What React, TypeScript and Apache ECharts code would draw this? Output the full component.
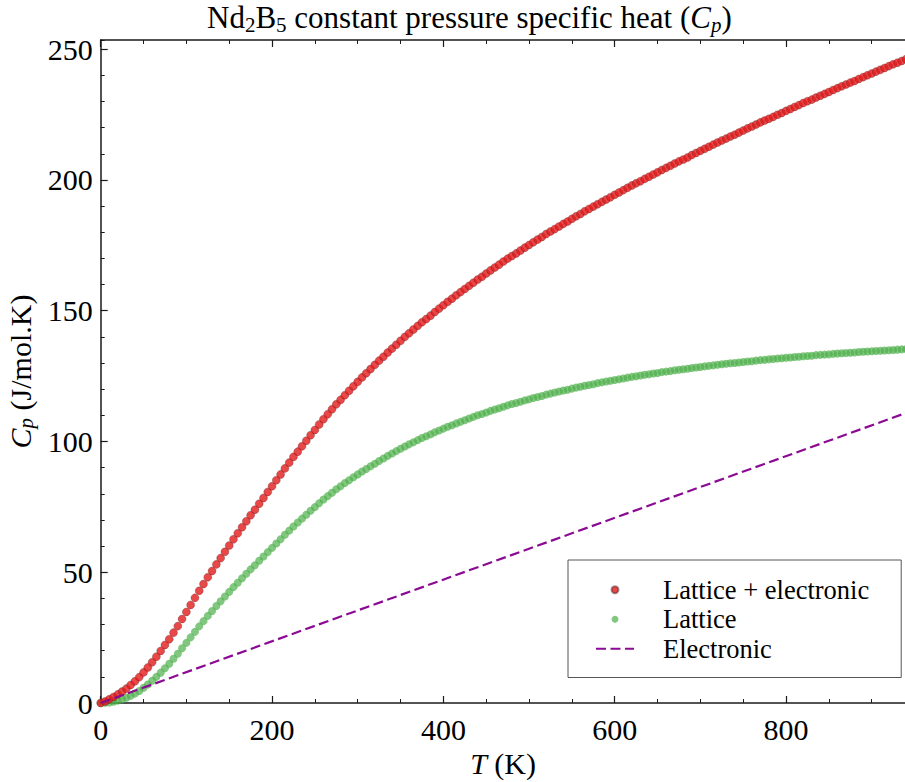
import React, { useEffect, useRef } from 'react';
import * as echarts from 'echarts';

const FONT = "'Liberation Serif', 'Times New Roman', 'DejaVu Serif', serif";

// Temperature grid (K)
const temperatures = [
  0, 5, 10, 15, 20, 25, 30, 35, 40, 45,
  50, 55, 60, 65, 70, 75, 80, 85, 90, 95,
  100, 105, 110, 115, 120, 125, 130, 135, 140, 145,
  150, 155, 160, 165, 170, 175, 180, 185, 190, 195,
  200, 205, 210, 215, 220, 225, 230, 235, 240, 245,
  250, 255, 260, 265, 270, 275, 280, 285, 290, 295,
  300, 305, 310, 315, 320, 325, 330, 335, 340, 345,
  350, 355, 360, 365, 370, 375, 380, 385, 390, 395,
  400, 405, 410, 415, 420, 425, 430, 435, 440, 445,
  450, 455, 460, 465, 470, 475, 480, 485, 490, 495,
  500, 505, 510, 515, 520, 525, 530, 535, 540, 545,
  550, 555, 560, 565, 570, 575, 580, 585, 590, 595,
  600, 605, 610, 615, 620, 625, 630, 635, 640, 645,
  650, 655, 660, 665, 670, 675, 680, 685, 690, 695,
  700, 705, 710, 715, 720, 725, 730, 735, 740, 745,
  750, 755, 760, 765, 770, 775, 780, 785, 790, 795,
  800, 805, 810, 815, 820, 825, 830, 835, 840, 845,
  850, 855, 860, 865, 870, 875, 880, 885, 890, 895,
  900, 905, 910, 915, 920, 925, 930, 935, 940,
];

// Lattice Cp (J/mol.K)
const latticeCp = [
  0, 0.1, 0.2, 0.5, 0.9, 1.4, 2.0, 2.8, 3.6, 4.6,
  5.8, 7.1, 8.5, 10.0, 11.6, 13.3, 15.0, 16.9, 18.8, 20.9,
  23.0, 25.1, 27.2, 29.3, 31.3, 33.3, 35.2, 37.1, 38.9, 40.7,
  42.5, 44.3, 46.0, 47.7, 49.4, 51.1, 52.7, 54.4, 56.0, 57.7,
  59.3, 61.0, 62.6, 64.3, 65.9, 67.5, 69.0, 70.5, 72.0, 73.5,
  74.9, 76.4, 77.8, 79.1, 80.4, 81.7, 82.9, 84.1, 85.2, 86.3,
  87.4, 88.5, 89.5, 90.5, 91.5, 92.5, 93.5, 94.5, 95.4, 96.3,
  97.2, 98.1, 98.9, 99.7, 100.5, 101.3, 102.0, 102.7, 103.5, 104.2,
  104.9, 105.6, 106.2, 106.9, 107.5, 108.1, 108.8, 109.4, 110.0, 110.5,
  111.1, 111.7, 112.2, 112.7, 113.3, 113.8, 114.3, 114.7, 115.2, 115.7,
  116.1, 116.6, 117.0, 117.4, 117.9, 118.3, 118.7, 119.1, 119.5, 119.8,
  120.2, 120.6, 120.9, 121.3, 121.6, 121.9, 122.3, 122.6, 122.9, 123.2,
  123.5, 123.8, 124.1, 124.4, 124.7, 124.9, 125.2, 125.5, 125.7, 126.0,
  126.2, 126.5, 126.7, 126.9, 127.2, 127.4, 127.6, 127.8, 128.1, 128.3,
  128.5, 128.7, 128.9, 129.1, 129.3, 129.5, 129.7, 129.9, 130.0, 130.2,
  130.4, 130.6, 130.7, 130.9, 131.1, 131.2, 131.4, 131.5, 131.7, 131.8,
  132.0, 132.1, 132.3, 132.4, 132.6, 132.7, 132.8, 133.0, 133.1, 133.2,
  133.3, 133.5, 133.6, 133.7, 133.8, 133.9, 134.0, 134.2, 134.3, 134.4,
  134.5, 134.6, 134.7, 134.8, 134.9, 135.0, 135.1, 135.2, 135.3,
];

// Lattice + electronic Cp (J/mol.K)
const totalCp = [
  0, 0.6, 1.4, 2.3, 3.3, 4.4, 5.5, 6.9, 8.3, 9.9,
  11.7, 13.6, 15.6, 17.7, 19.9, 22.2, 24.4, 26.9, 29.4, 32.1,
  34.8, 37.5, 40.2, 42.9, 45.5, 48.1, 50.5, 53.0, 55.4, 57.8,
  60.2, 62.6, 64.9, 67.2, 69.5, 71.8, 73.9, 76.2, 78.4, 80.7,
  82.9, 85.2, 87.4, 89.7, 91.9, 94.1, 96.1, 98.2, 100.3, 102.4,
  104.4, 106.5, 108.5, 110.4, 112.3, 114.2, 115.9, 117.7, 119.4, 121.1,
  122.8, 124.5, 126.1, 127.7, 129.3, 130.9, 132.4, 134.0, 135.5, 137.0,
  138.5, 140.0, 141.4, 142.8, 144.2, 145.6, 146.8, 148.1, 149.5, 150.8,
  152.1, 153.4, 154.6, 155.9, 157.1, 158.3, 159.5, 160.7, 161.9, 163.0,
  164.2, 165.4, 166.5, 167.6, 168.8, 169.9, 170.9, 171.9, 173.0, 174.1,
  175.1, 176.2, 177.2, 178.2, 179.3, 180.3, 181.2, 182.2, 183.2, 184.1,
  185.1, 186.1, 187.0, 188.0, 188.9, 189.8, 190.7, 191.6, 192.5, 193.4,
  194.3, 195.2, 196.1, 197.0, 197.9, 198.7, 199.5, 200.4, 201.2, 202.1,
  202.9, 203.8, 204.6, 205.4, 206.3, 207.1, 207.8, 208.6, 209.5, 210.3,
  211.1, 211.9, 212.7, 213.5, 214.3, 215.1, 215.8, 216.6, 217.3, 218.1,
  218.9, 219.7, 220.4, 221.2, 222.0, 222.7, 223.4, 224.1, 224.9, 225.6,
  226.4, 227.1, 227.9, 228.6, 229.4, 230.1, 230.7, 231.5, 232.2, 232.9,
  233.6, 234.4, 235.1, 235.8, 236.5, 237.2, 237.8, 238.6, 239.3, 240.0,
  240.7, 241.4, 242.1, 242.8, 243.5, 244.2, 244.8, 245.5, 246.2,
];

// Electronic Cp: straight line (gamma * T)
const electronicT = [0, 940];
const electronicCp = [0, 110.9];

const seriesNames = ['Lattice + electronic', 'Lattice', 'Electronic'];
const xTickInterval = 200;
const xTickLabels = ['0', '200', '400', '600', '800'];
const yTickInterval = 50;
const yTickLabels = ['0', '50', '100', '150', '200', '250'];

const AXIS_COLOR = '#1a1a1a';

function richStyles(size: number, subSize: number, subPad: number) {
  return {
    a: { fontFamily: FONT, fontSize: size, fontWeight: 'normal', color: '#000' },
    i: { fontFamily: FONT, fontSize: size, fontWeight: 'normal', fontStyle: 'italic', color: '#000' },
    s: { fontFamily: FONT, fontSize: subSize, fontWeight: 'normal', color: '#000', padding: [subPad, 0, 0, 0] },
    is: { fontFamily: FONT, fontSize: subSize, fontWeight: 'normal', fontStyle: 'italic', color: '#000', padding: [subPad, 0, 0, 0] },
  };
}

function buildOption() {
  const lattice = temperatures.map((t, i) => [t, latticeCp[i]]);
  const total = temperatures.map((t, i) => [t, totalCp[i]]);
  const electronic = electronicT.map((t, i) => [t, electronicCp[i]]);

  const axisLine = { show: true, onZero: false, lineStyle: { color: AXIS_COLOR, width: 1.5 } };

  return {
    animation: false,
    backgroundColor: '#fff',
    title: {
      left: 207,
      top: 0,
      padding: 0,
      text: '{a|Nd}{s|2}{a|B}{s|5}{a| constant pressure specific heat (}{i|C}{is|p}{a|)}',
      textStyle: { fontWeight: 'normal', fontFamily: FONT, rich: richStyles(31, 21, 14) },
    },
    grid: { left: 100.7, top: 40, width: 856.7, height: 663, outerBoundsMode: 'none', containLabel: false },
    xAxis: [
      {
        type: 'value',
        min: 0,
        max: 1000,
        interval: xTickInterval,
        position: 'bottom',
        axisLine,
        axisTick: { show: true, inside: true, length: 7, lineStyle: { color: AXIS_COLOR, width: 1.2 } },
        minorTick: { show: true, splitNumber: 4, length: 4, lineStyle: { color: AXIS_COLOR, width: 1 } },
        splitLine: { show: false },
        minorSplitLine: { show: false },
        axisLabel: {
          fontFamily: FONT,
          fontSize: 30,
          color: '#000',
          margin: 11,
          formatter: (v: number) => (xTickLabels.indexOf(String(v)) >= 0 ? String(v) : ''),
        },
        name: '{i|T}{a| (K)}',
        nameLocation: 'middle',
        nameGap: 44,
        nameTextStyle: { padding: [0, 52, 0, 0], rich: richStyles(30, 21, 12) },
      },
      {
        type: 'value',
        min: 0,
        max: 1000,
        interval: xTickInterval,
        position: 'top',
        axisLine,
        axisTick: { show: true, inside: true, length: 7, lineStyle: { color: AXIS_COLOR, width: 1.2 } },
        minorTick: { show: true, splitNumber: 4, length: 4, lineStyle: { color: AXIS_COLOR, width: 1 } },
        splitLine: { show: false },
        axisLabel: { show: false },
      },
    ],
    yAxis: [
      {
        type: 'value',
        min: 0,
        max: 253.5,
        interval: yTickInterval,
        position: 'left',
        axisLine,
        axisTick: { show: true, inside: true, length: 7, lineStyle: { color: AXIS_COLOR, width: 1.2 } },
        minorTick: { show: false },
        splitLine: { show: false },
        axisLabel: {
          fontFamily: FONT,
          fontSize: 30,
          color: '#000',
          margin: 8,
          showMaxLabel: false,
          formatter: (v: number) => (yTickLabels.indexOf(String(v)) >= 0 ? String(v) : ''),
        },
        name: '{i|C}{is|p}{a| (J/mol.K)}',
        nameLocation: 'middle',
        nameGap: 57,
        nameTextStyle: { rich: richStyles(30, 21, 12) },
      },
      {
        type: 'value',
        min: 0,
        max: 253.5,
        interval: 10,
        position: 'left',
        axisLine: { show: false },
        axisTick: { show: true, inside: true, length: 4, lineStyle: { color: AXIS_COLOR, width: 1 } },
        splitLine: { show: false },
        axisLabel: { show: false },
      },
    ],
    legend: {
      orient: 'vertical',
      left: 568,
      top: 560,
      data: [
        { name: seriesNames[0] },
        { name: seriesNames[1] },
        { name: seriesNames[2], itemStyle: { opacity: 0 } },
      ],
      itemWidth: 38,
      itemHeight: 7,
      itemGap: 0,
      padding: [15, 32, 14, 27],
      backgroundColor: '#fff',
      borderColor: '#555',
      borderWidth: 1,
      borderRadius: 0,
      selectedMode: false,
      textStyle: {
        fontFamily: FONT,
        fontSize: 26.5,
        color: '#000',
        lineHeight: 29.5,
        padding: [0, 0, 0, 24],
      },
    },
    series: [
      {
        name: seriesNames[2],
        type: 'line',
        data: electronic,
        symbol: 'none',
        silent: true,
        lineStyle: { color: '#8b0a93', width: 2.2, type: [10, 4.5] },
        itemStyle: { color: '#8b0a93' },
      },
      {
        name: seriesNames[1],
        type: 'scatter',
        data: lattice,
        symbol: 'circle',
        symbolSize: 8,
        silent: true,
        itemStyle: { color: '#4daf4a', opacity: 0.7 },
      },
      {
        name: seriesNames[0],
        type: 'scatter',
        data: total,
        symbol: 'circle',
        symbolSize: 8,
        silent: true,
        itemStyle: { color: '#e41a1c', borderColor: 'rgba(70,30,30,0.6)', borderWidth: 0.6 },
      },
    ],
  };
}

export default function App() {
  const ref = useRef<HTMLDivElement>(null);
  useEffect(() => {
    document.body.style.margin = '0';
    if (!ref.current) return;
    const chart = echarts.init(ref.current, null, { renderer: 'svg' });
    chart.setOption(buildOption() as any);
    return () => chart.dispose();
  }, []);
  return <div ref={ref} style={{ width: 905, height: 782 }} />;
}
